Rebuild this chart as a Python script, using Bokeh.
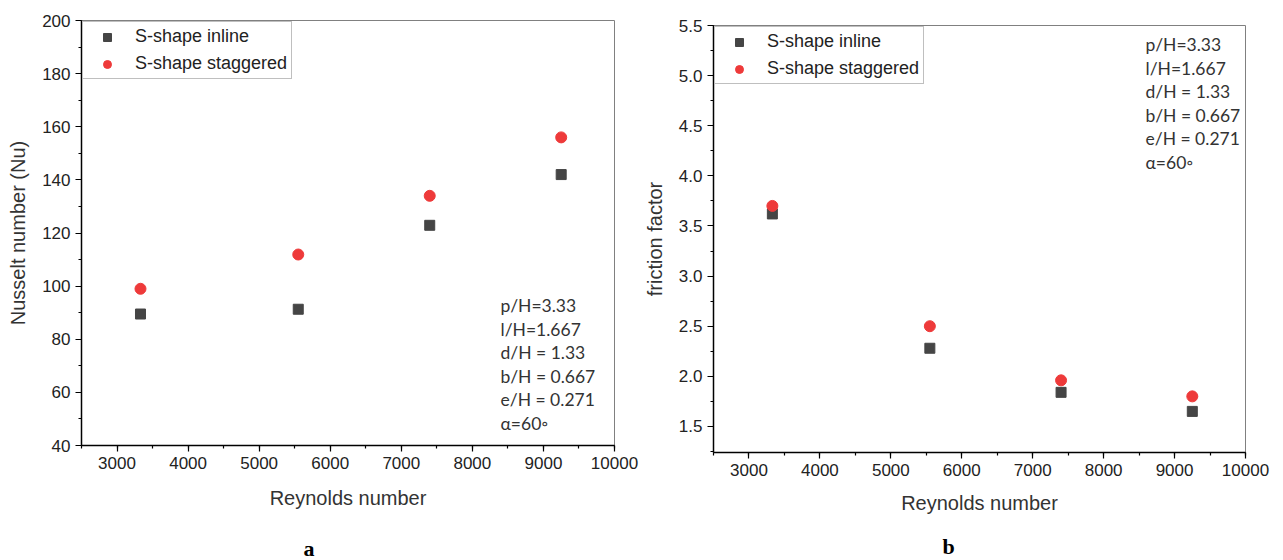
from bokeh.plotting import figure
from bokeh.layouts import row, column
from bokeh.models import (Range1d, SingleIntervalTicker, Legend, LegendItem, Label, Title,
                          PrintfTickFormatter)
from bokeh.embed import file_html
from bokeh.resources import INLINE

reynolds = [3330, 5550, 7400, 9250]
nu_inline = [89.5, 91.3, 122.9, 142.0]
nu_staggered = [99.0, 111.9, 134.0, 156.0]
f_inline = [3.62, 2.28, 1.84, 1.65]
f_staggered = [3.70, 2.50, 1.96, 1.80]
series_names = ["S-shape inline", "S-shape staggered"]
params = ["p/H=3.33", "l/H=1.667", "d/H = 1.33", "b/H = 0.667", "e/H = 0.271", "α=60◦"]

FONT = "Liberation Sans"


def make(width, bl, br, bt, bb, yr, yint, yfmt, ylabel, inline, stag, px, py,
         letter, lx, lh, xstand):
    p = figure(width=width, height=560, x_range=Range1d(2500, 10000), y_range=Range1d(*yr),
               output_backend="svg", toolbar_location=None,
               min_border_left=bl, min_border_right=br, min_border_top=bt, min_border_bottom=bb)
    p.xgrid.visible = False
    p.ygrid.visible = False
    p.outline_line_color = "#808080"
    p.outline_line_width = 1
    p.xaxis.ticker = SingleIntervalTicker(interval=1000, num_minor_ticks=2)
    p.yaxis.ticker = SingleIntervalTicker(interval=yint, num_minor_ticks=2)
    p.yaxis.formatter = PrintfTickFormatter(format=yfmt)
    p.xaxis.axis_label = "Reynolds number"
    p.yaxis.axis_label = ylabel
    for ax in (p.xaxis[0], p.yaxis[0]):
        ax.axis_line_color = "black"
        ax.axis_line_width = 1.5
        ax.major_tick_line_color = "black"
        ax.minor_tick_line_color = "black"
        ax.major_tick_line_width = 1.2
        ax.minor_tick_line_width = 1.2
        ax.major_tick_in = 0
        ax.major_tick_out = 6
        ax.minor_tick_in = 0
        ax.minor_tick_out = 3
        ax.major_label_text_font = FONT
        ax.major_label_text_font_size = "17px"
        ax.major_label_text_color = "#222222"
        ax.axis_label_text_font = FONT
        ax.axis_label_text_font_size = "20px"
        ax.axis_label_text_font_style = "normal"
        ax.axis_label_text_color = "#333333"
    p.xaxis.axis_label_standoff = xstand
    p.yaxis.axis_label_standoff = 10

    r1 = p.scatter(reynolds, inline, marker="square", size=10,
                   fill_color="#454545", line_color="#454545")
    r2 = p.scatter(reynolds, stag, marker="circle", size=11,
                   fill_color="#ee3a3a", line_color="#ee3a3a")
    legend = Legend(items=[LegendItem(label=series_names[0], renderers=[r1]),
                           LegendItem(label=series_names[1], renderers=[r2])],
                    location="top_left", margin=1, padding=4, spacing=6,
                    glyph_width=40, glyph_height=20, label_standoff=8,
                    label_text_font=FONT, label_text_font_size="18px",
                    label_text_color="#222222",
                    border_line_color="#808080", border_line_width=1,
                    background_fill_alpha=1.0)
    p.add_layout(legend)

    for i, t in enumerate(params):
        p.add_layout(Label(x=px, y=py - i * 23.6, x_units="screen", y_units="screen",
                           text=t, text_font="Lato", text_font_size="17.5px",
                           text_color="#333333", text_baseline="middle"))

    p.add_layout(Title(text="\n" + letter, align="left", offset=lx, standoff=0,
                       text_line_height=lh,
                       text_font="Liberation Serif", text_font_style="bold",
                       text_font_size="22px", text_color="black"), "below")
    return p


p1 = make(640, 81, 26, 20, 115, (40, 200), 20, "%d", "Nusselt number (Nu)",
          nu_inline, nu_staggered, 419, 140, "a", 222, 0.86, 15)
p2 = make(643, 73, 38, 25, 108, (1.24, 5.5), 0.5, "%.1f", "friction factor",
          f_inline, f_staggered, 432, 408, "b", 229, 0.6, 13)

layout = row(column(p1), column(p2))
open("out.html", "w").write(file_html(layout, INLINE))
